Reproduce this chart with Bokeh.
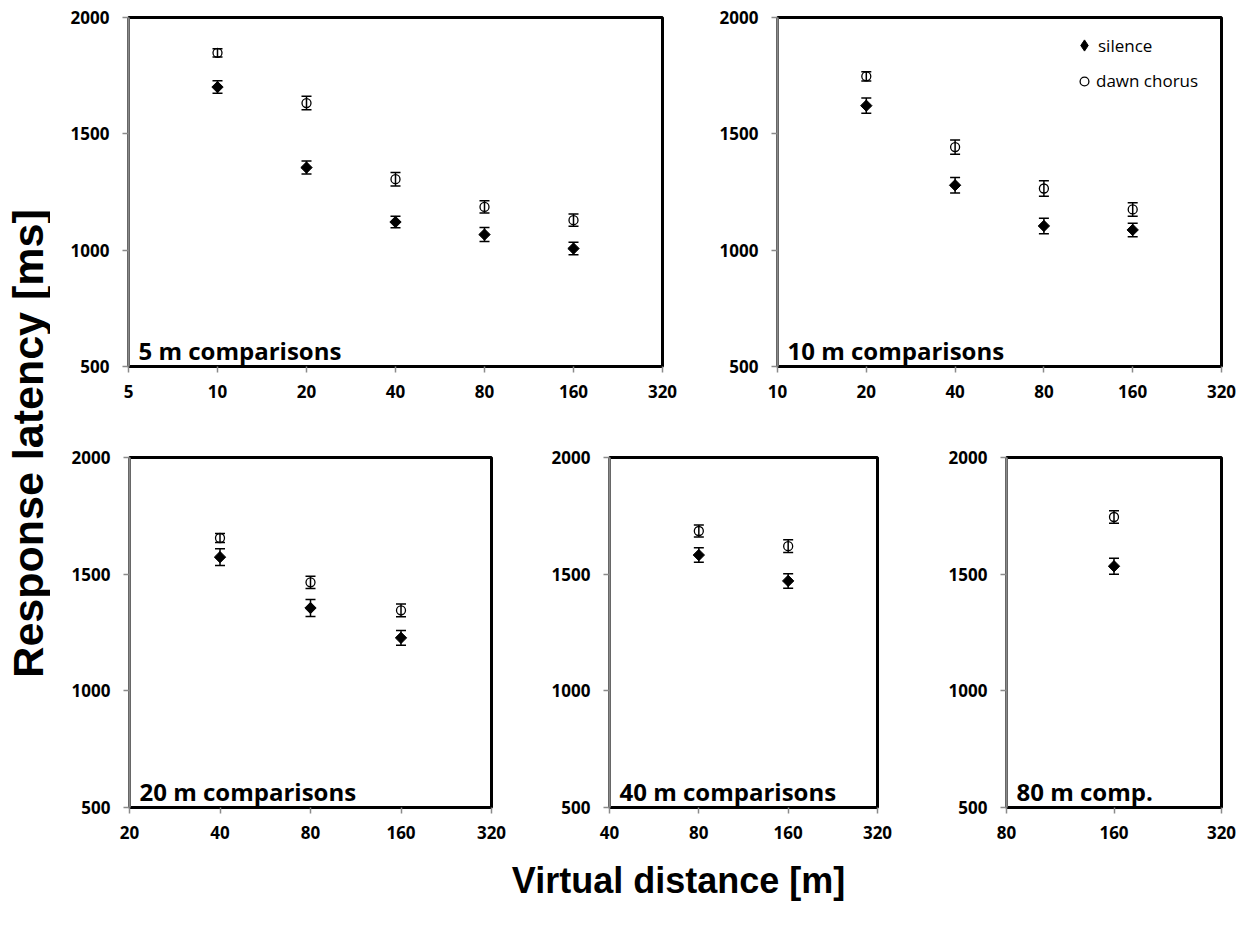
import math
from bokeh.plotting import figure
from bokeh.models import (Range1d, FixedTicker, BasicTickFormatter, Whisker, TeeHead,
                          ColumnDataSource, Label, Legend, LegendItem)
from bokeh.layouts import row, column
from bokeh.embed import file_html
from bokeh.resources import INLINE

# ---------------- data ----------------
y_ticks = [500, 1000, 1500, 2000]

# 5 m comparisons
c5_x = [10, 20, 40, 80, 160]
c5_silence = [1701, 1355, 1121, 1067, 1007]
c5_silence_err = [27, 28, 25, 30, 27]
c5_dawn = [1848, 1632, 1305, 1186, 1129]
c5_dawn_err = [18, 29, 29, 26, 26]
c5_xticks = [5, 10, 20, 40, 80, 160, 320]

# 10 m comparisons
c10_x = [20, 40, 80, 160]
c10_silence = [1621, 1279, 1104, 1087]
c10_silence_err = [33, 33, 33, 29]
c10_dawn = [1747, 1443, 1265, 1175]
c10_dawn_err = [20, 31, 33, 29]
c10_xticks = [10, 20, 40, 80, 160, 320]

# 20 m comparisons
c20_x = [40, 80, 160]
c20_silence = [1573, 1355, 1227]
c20_silence_err = [36, 36, 32]
c20_dawn = [1655, 1465, 1345]
c20_dawn_err = [19, 26, 27]
c20_xticks = [20, 40, 80, 160, 320]

# 40 m comparisons
c40_x = [80, 160]
c40_silence = [1582, 1471]
c40_silence_err = [31, 31]
c40_dawn = [1685, 1620]
c40_dawn_err = [26, 27]
c40_xticks = [40, 80, 160, 320]

# 80 m comparisons
c80_x = [160]
c80_silence = [1534]
c80_silence_err = [34]
c80_dawn = [1745]
c80_dawn_err = [27]
c80_xticks = [80, 160, 320]

panel_labels = ["5 m comparisons", "10 m comparisons", "20 m comparisons",
                "40 m comparisons", "80 m comp."]
series_names = ["silence", "dawn chorus"]
x_title = "Virtual distance [m]"
y_title = "Response latency  [ms]"

TICK_FONT = "Open Sans"
AXIS_GRAY = "#8a8a8a"


def make_panel(width, height, ml, mr, mt, mb, xticks, xs, sil, sil_err, dawn, dawn_err, label):
    p = figure(width=width, height=height, x_axis_type="log",
               x_range=Range1d(xticks[0], xticks[-1]), y_range=Range1d(500, 2000),
               output_backend="svg", toolbar_location=None, title=None,
               min_border_left=ml, min_border_right=mr,
               min_border_top=mt, min_border_bottom=mb)
    p.xgrid.grid_line_color = None
    p.ygrid.grid_line_color = None
    p.outline_line_color = "black"
    p.outline_line_width = 3
    p.background_fill_color = "white"
    p.border_fill_color = "white"

    p.xaxis.ticker = FixedTicker(ticks=xticks, minor_ticks=[])
    p.xaxis.formatter = BasicTickFormatter(use_scientific=False)
    p.yaxis.ticker = FixedTicker(ticks=y_ticks, minor_ticks=[])
    for ax in (p.xaxis[0], p.yaxis[0]):
        ax.major_label_text_font = TICK_FONT
        ax.major_label_text_font_style = "bold"
        ax.major_label_text_font_size = "17px"
        ax.major_label_text_color = "black"
        ax.major_tick_in = 0
        ax.major_tick_out = 6
        ax.major_tick_line_color = AXIS_GRAY
        ax.major_tick_line_width = 1.5
        ax.minor_tick_line_color = None
        ax.axis_line_width = 2.5
    p.xaxis.axis_line_color = "black"
    p.yaxis.axis_line_color = AXIS_GRAY
    p.xaxis.major_label_standoff = 12
    p.yaxis.major_label_standoff = 13

    src_s = ColumnDataSource(dict(x=xs, y=sil,
                                  lo=[v - e for v, e in zip(sil, sil_err)],
                                  hi=[v + e for v, e in zip(sil, sil_err)]))
    src_d = ColumnDataSource(dict(x=xs, y=dawn,
                                  lo=[v - e for v, e in zip(dawn, dawn_err)],
                                  hi=[v + e for v, e in zip(dawn, dawn_err)]))
    for src in (src_s, src_d):
        w = Whisker(source=src, base="x", upper="hi", lower="lo", dimension="height",
                    line_color="black", line_width=1.5,
                    upper_head=TeeHead(size=10, line_color="black", line_width=1.5),
                    lower_head=TeeHead(size=10, line_color="black", line_width=1.5))
        p.add_layout(w)
    # diamond renderer (used as legend key), covered by the rotated-square markers
    r_key = p.scatter("x", "y", source=src_s, marker="diamond", size=10,
                      fill_color="black", line_color="black", line_width=1)
    p.scatter("x", "y", source=src_s, marker="square", angle=math.pi / 4, size=8,
              fill_color="black", line_color="black", line_width=1)
    r_d = p.scatter("x", "y", source=src_d, marker="circle", size=9,
                    fill_color=None, line_color="black", line_width=1.3)

    p.add_layout(Label(x=10, y=16, x_units="screen", y_units="screen", text=label,
                       text_font="Open Sans", text_font_style="bold",
                       text_font_size="24px", text_color="black",
                       text_baseline="alphabetic", text_align="left"))
    return p, r_key, r_d


p1, _, _ = make_panel(652, 420, 78, 40, 17, 54, c5_xticks, c5_x, c5_silence, c5_silence_err,
                      c5_dawn, c5_dawn_err, panel_labels[0])
p2, rk2, rd2 = make_panel(554, 420, 75, 35, 17, 54, c10_xticks, c10_x, c10_silence,
                          c10_silence_err, c10_dawn, c10_dawn_err, panel_labels[1])
p3, _, _ = make_panel(481, 437, 79, 40, 37, 50, c20_xticks, c20_x, c20_silence,
                      c20_silence_err, c20_dawn, c20_dawn_err, panel_labels[2])
p4, _, _ = make_panel(386, 437, 78, 40, 37, 50, c40_xticks, c40_x, c40_silence,
                      c40_silence_err, c40_dawn, c40_dawn_err, panel_labels[3])
p5, _, _ = make_panel(339, 437, 89, 35, 37, 50, c80_xticks, c80_x, c80_silence,
                      c80_silence_err, c80_dawn, c80_dawn_err, panel_labels[4])

leg_common = dict(orientation="vertical", label_height=20, spacing=0,
                  padding=0, margin=0, border_line_color=None, background_fill_alpha=0,
                  label_text_font="Open Sans", label_text_font_size="17px",
                  label_text_color="black")
leg1 = Legend(items=[LegendItem(label=series_names[0], renderers=[rk2], index=0)],
              location=(293, 307), glyph_width=28, glyph_height=28, label_standoff=-3,
              **leg_common)
leg2 = Legend(items=[LegendItem(label=series_names[1], renderers=[rd2], index=0)],
              location=(296, 274), glyph_width=22, glyph_height=22, label_standoff=1,
              **leg_common)
p2.add_layout(leg1)
p2.add_layout(leg2)


def text_fig(width, height, text, x, y, angle, size):
    f = figure(width=width, height=height, x_range=(0, 1), y_range=(0, 1),
               output_backend="svg", toolbar_location=None, title=None,
               x_axis_location=None, y_axis_location=None,
               min_border_left=0, min_border_right=0, min_border_top=0, min_border_bottom=0)
    f.xgrid.grid_line_color = None
    f.ygrid.grid_line_color = None
    f.outline_line_color = None
    f.add_layout(Label(x=x, y=y, x_units="screen", y_units="screen", text=text,
                       angle=angle, text_font="Liberation Sans", text_font_style="bold",
                       text_font_size=size, text_color="black",
                       text_align="center", text_baseline="middle"))
    return f


yt = text_fig(50, 857, y_title, 27, 857 - 437, math.pi / 2, "43px")
xt = text_fig(1256, 69, x_title, 678, 69 - 23, 0, "36px")

layout = column(row(yt, column(row(p1, p2), row(p3, p4, p5))), xt)

open("out.html", "w").write(file_html(layout, INLINE))
